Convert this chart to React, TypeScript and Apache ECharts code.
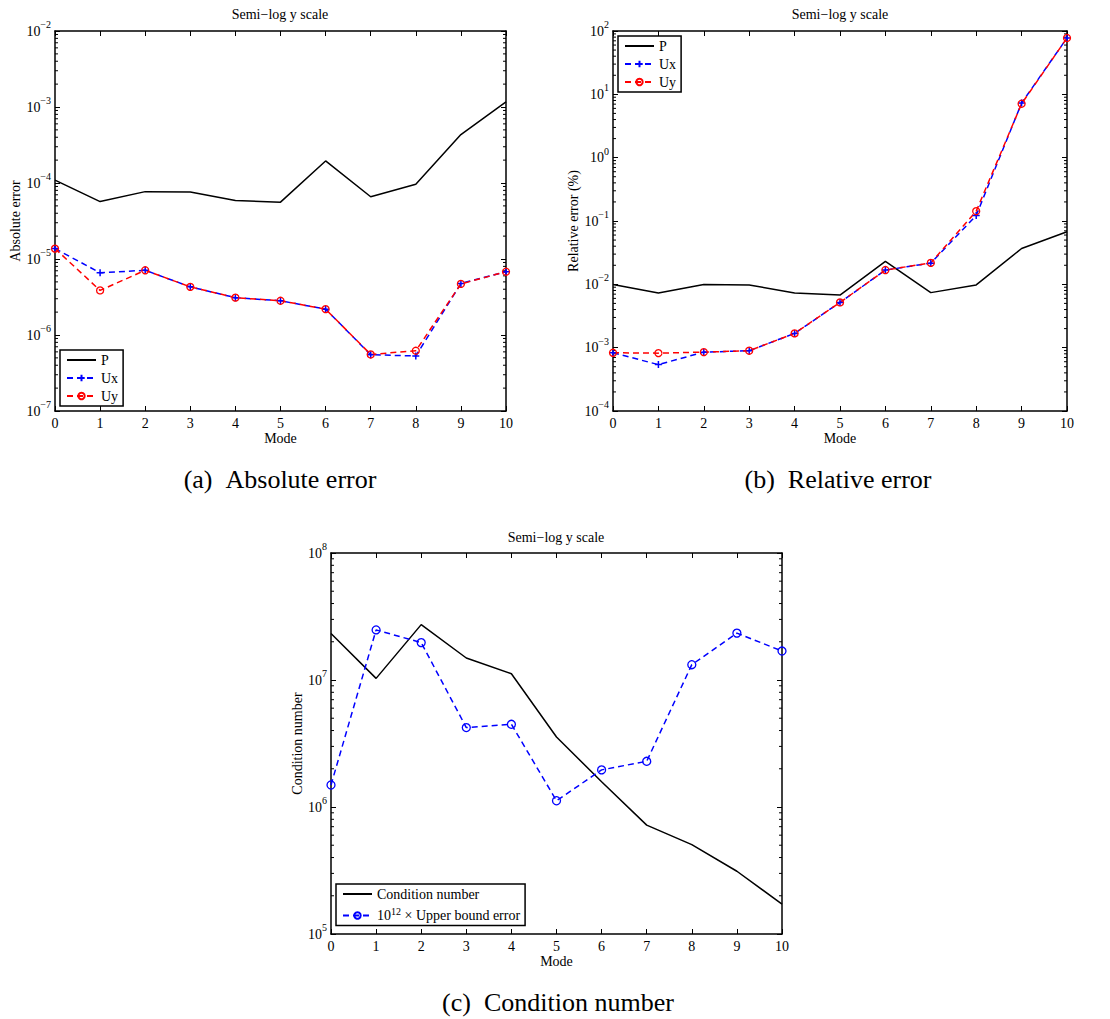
import React, { useEffect, useRef } from "react";
import * as echarts from "echarts";

const modes = [0, 1, 2, 3, 4, 5, 6, 7, 8, 9, 10];
const xTicks = [0, 1, 2, 3, 4, 5, 6, 7, 8, 9, 10];

const absP = [1.09e-4, 5.7e-5, 7.7e-5, 7.6e-5, 5.9e-5, 5.6e-5, 1.95e-4, 6.6e-5, 9.6e-5, 4.34e-4, 1.17e-3];
const absUx = [1.37e-5, 6.6e-6, 7.1e-6, 4.3e-6, 3.1e-6, 2.82e-6, 2.19e-6, 5.5e-7, 5.3e-7, 4.76e-6, 6.8e-6];
const absUy = [1.37e-5, 3.86e-6, 7.1e-6, 4.3e-6, 3.1e-6, 2.82e-6, 2.19e-6, 5.55e-7, 6.2e-7, 4.7e-6, 6.8e-6];

const relP = [9.95e-3, 7.27e-3, 9.9e-3, 9.8e-3, 7.3e-3, 6.76e-3, 2.3e-2, 7.4e-3, 9.8e-3, 3.68e-2, 6.75e-2];
const relUx = [8.3e-4, 5.4e-4, 8.5e-4, 8.95e-4, 1.68e-3, 5.18e-3, 1.68e-2, 2.16e-2, 0.122, 7.3, 77.6];
const relUy = [8.3e-4, 8.2e-4, 8.5e-4, 8.95e-4, 1.68e-3, 5.18e-3, 1.68e-2, 2.18e-2, 0.143, 7.1, 77.6];

const condNum = [2.32e7, 1.03e7, 2.73e7, 1.49e7, 1.12e7, 3.56e6, 1.58e6, 7.2e5, 5.06e5, 3.12e5, 1.72e5];
const upperBound = [1.49e6, 2.48e7, 1.97e7, 4.22e6, 4.48e6, 1.12e6, 1.96e6, 2.29e6, 1.32e7, 2.34e7, 1.69e7];

const yRanges = [
  [1e-7, 1e-2],
  [1e-4, 1e2],
  [1e5, 1e8],
];

const FONT = "'Liberation Serif', 'Times New Roman', serif";
const BLUE = "#0000ff";
const RED = "#ff0000";
const PLUS = "path://M0,5L10,5M5,0L5,10";
const CLEAR = "rgba(0,0,0,0)";

function pairs(arr: number[]) {
  return modes.map((m, i) => [m, arr[i]]);
}

function minorValues(lo: number, hi: number) {
  const out: number[][] = [];
  const e0 = Math.round(Math.log10(lo));
  const e1 = Math.round(Math.log10(hi));
  for (let e = e0; e < e1; e++) {
    for (let d = 2; d <= 9; d++) out.push([0, d * Math.pow(10, e)]);
  }
  return out;
}

const expFmt = (v: number) => {
  const e = Math.round(Math.log10(v));
  const s = e < 0 ? "\u2212" + Math.abs(e) : String(e);
  return "{b|10}{s|" + s + "}";
};

const labelRich = {
  b: { fontSize: 14, fontFamily: FONT, color: "#000" },
  s: { fontSize: 10, fontFamily: FONT, color: "#000", padding: [0, 0, 13, 0] },
};

const grids = [
  { left: 55, top: 31, width: 451, height: 380 },
  { left: 613, top: 31, width: 454, height: 380 },
  { left: 331, top: 553, width: 451, height: 381 },
];

const yNames = ["Absolute error", "Relative error (%)", "Condition number"];
const yNameGaps = [31, 33, 27];

export default function App() {
  const ref = useRef<HTMLDivElement>(null);

  useEffect(() => {
    if (!ref.current) return;
    const chart = echarts.init(ref.current, null, { renderer: "svg" });

    const xAxes: any[] = [];
    const yAxes: any[] = [];
    grids.forEach((g, gi) => {
      xAxes.push({
        gridIndex: gi,
        type: "value",
        min: 0,
        max: 10,
        interval: 1,
        position: "bottom",
        name: "Mode",
        nameLocation: "middle",
        nameGap: 20,
        nameTextStyle: { fontSize: 14, fontFamily: FONT, color: "#000" },
        axisLine: { show: true, onZero: false, lineStyle: { color: "#000", width: 1.5 } },
        axisTick: { show: true, inside: true, length: 5, lineStyle: { color: "#000", width: 1 } },
        axisLabel: {
          show: true,
          margin: 5,
          fontSize: 14,
          fontFamily: FONT,
          color: "#000",
          formatter: (v: number) => (xTicks.includes(v) ? String(v) : ""),
        },
        splitLine: { show: false },
      });
      xAxes.push({
        gridIndex: gi,
        type: "value",
        min: 0,
        max: 10,
        interval: 1,
        position: "top",
        axisLine: { show: true, onZero: false, lineStyle: { color: "#000", width: 1.5 } },
        axisTick: { show: true, inside: true, length: 5, lineStyle: { color: "#000", width: 1 } },
        axisLabel: { show: false },
        splitLine: { show: false },
      });
      const [lo, hi] = yRanges[gi];
      yAxes.push({
        gridIndex: gi,
        type: "log",
        logBase: 10,
        min: lo,
        max: hi,
        position: "left",
        name: yNames[gi],
        nameLocation: "middle",
        nameGap: yNameGaps[gi],
        nameTextStyle: { fontSize: 14, fontFamily: FONT, color: "#000" },
        axisLine: { show: true, onZero: false, lineStyle: { color: "#000", width: 1.5 } },
        axisTick: { show: true, inside: true, length: 5, lineStyle: { color: "#000", width: 1 } },
        axisLabel: {
          show: true,
          margin: 4,
          formatter: expFmt,
          rich: labelRich,
        },
        splitLine: { show: false },
      });
      yAxes.push({
        gridIndex: gi,
        type: "log",
        logBase: 10,
        min: lo,
        max: hi,
        position: "right",
        axisLine: { show: true, onZero: false, lineStyle: { color: "#000", width: 1.5 } },
        axisTick: { show: true, inside: true, length: 5, lineStyle: { color: "#000", width: 1 } },
        axisLabel: { show: false },
        splitLine: { show: false },
      });
    });

    const minorSeries = grids.map((g, gi) => ({
      type: "custom",
      name: "minor" + gi,
      xAxisIndex: gi * 2,
      yAxisIndex: gi * 2,
      silent: true,
      z: 1,
      data: minorValues(yRanges[gi][0], yRanges[gi][1]),
      renderItem: (params: any, api: any) => {
        const v = api.value(1);
        const l = api.coord([0, v]);
        const r = api.coord([10, v]);
        return {
          type: "group",
          children: [
            { type: "line", shape: { x1: l[0], y1: l[1], x2: l[0] + 3, y2: l[1] }, style: { stroke: "#000", lineWidth: 1 } },
            { type: "line", shape: { x1: r[0] - 3, y1: r[1], x2: r[0], y2: r[1] }, style: { stroke: "#000", lineWidth: 1 } },
          ],
        };
      },
    }));

    const pSeries = (gi: number, data: number[], name = "P") => ({
      type: "line",
      name,
      xAxisIndex: gi * 2,
      yAxisIndex: gi * 2,
      data: pairs(data),
      showSymbol: false,
      symbol: "circle",
      symbolSize: 0,
      lineStyle: { color: "#000", width: 1.5 },
      itemStyle: { color: CLEAR, borderColor: CLEAR, borderWidth: 0 },
      z: 3,
    });
    const uxSeries = (gi: number, data: number[]) => ({
      type: "line",
      name: "Ux",
      xAxisIndex: gi * 2,
      yAxisIndex: gi * 2,
      data: pairs(data),
      symbol: PLUS,
      symbolSize: 7,
      lineStyle: { color: BLUE, width: 1.5, type: [6, 4] },
      itemStyle: { color: BLUE, borderColor: BLUE, borderWidth: 1.5 },
      z: 3,
    });
    const uySeries = (gi: number, data: number[]) => ({
      type: "line",
      name: "Uy",
      xAxisIndex: gi * 2,
      yAxisIndex: gi * 2,
      data: pairs(data),
      symbol: "circle",
      symbolSize: 7,
      lineStyle: { color: RED, width: 1.5, type: [6, 4] },
      itemStyle: { color: CLEAR, borderColor: RED, borderWidth: 1.3 },
      z: 3,
    });

    const legendBase = {
      orient: "vertical",
      itemWidth: 29,
      itemHeight: 8,
      itemGap: 4,
      padding: [3, 5, 3, 6],
      borderColor: "#000",
      borderWidth: 1.5,
      backgroundColor: "#fff",
      selectedMode: false,
      textStyle: { fontSize: 14, fontFamily: FONT, color: "#000" },
    };

    const titleBase = {
      text: "Semi\u2212log y scale",
      padding: 0,
      textStyle: { fontSize: 14, fontWeight: "normal", fontFamily: FONT, color: "#000" },
      textAlign: "center",
    };
    const capStyle = { fontSize: 26, fontWeight: "normal", fontFamily: FONT, color: "#000" };

    const option: any = {
      animation: false,
      backgroundColor: "#fff",
      textStyle: { fontFamily: FONT },
      title: [
        { ...titleBase, left: 280, top: 7 },
        { ...titleBase, left: 840, top: 7 },
        { ...titleBase, left: 556, top: 530 },
        { text: "(a)\u2002Absolute error", left: 280, top: 466, padding: 0, textAlign: "center", textStyle: capStyle },
        { text: "(b)\u2002Relative error", left: 838, top: 466, padding: 0, textAlign: "center", textStyle: capStyle },
        { text: "(c)\u2002Condition number", left: 558, top: 989, padding: 0, textAlign: "center", textStyle: capStyle },
      ],
      grid: grids.map((g) => ({ ...g, containLabel: false })),
      xAxis: xAxes,
      yAxis: yAxes,
      legend: [
        { ...legendBase, left: 60, top: 350, data: ["P", "Ux", "Uy"] },
        { ...legendBase, left: 618, top: 36, data: ["P", "Ux", "Uy"] },
        {
          ...legendBase,
          left: 336,
          top: 884,
          itemGap: 5,
          data: ["Condition number", "Upper bound error"],
          formatter: (name: string) =>
            name === "Upper bound error" ? "{n|10}{s|12}{n| \u00d7 Upper bound error}" : name,
          textStyle: {
            fontSize: 14,
            fontFamily: FONT,
            color: "#000",
            rich: {
              n: { fontSize: 14, fontFamily: FONT, color: "#000" },
              s: { fontSize: 10, fontFamily: FONT, color: "#000", padding: [0, 0, 9, 0] },
            },
          },
        },
      ],
      series: [
        ...minorSeries,
        pSeries(0, absP),
        uxSeries(0, absUx),
        uySeries(0, absUy),
        pSeries(1, relP),
        uxSeries(1, relUx),
        uySeries(1, relUy),
        pSeries(2, condNum, "Condition number"),
        {
          type: "line",
          name: "Upper bound error",
          xAxisIndex: 4,
          yAxisIndex: 4,
          data: pairs(upperBound),
          symbol: "circle",
          symbolSize: 8,
          lineStyle: { color: BLUE, width: 1.5, type: [6, 4] },
          itemStyle: { color: CLEAR, borderColor: BLUE, borderWidth: 1.3 },
          z: 3,
        },
      ],
    };

    chart.setOption(option);
    return () => chart.dispose();
  }, []);

  return (
    <div
      ref={ref}
      style={{ position: "absolute", left: 0, top: 0, width: 1110, height: 1019, background: "#fff" }}
    />
  );
}
